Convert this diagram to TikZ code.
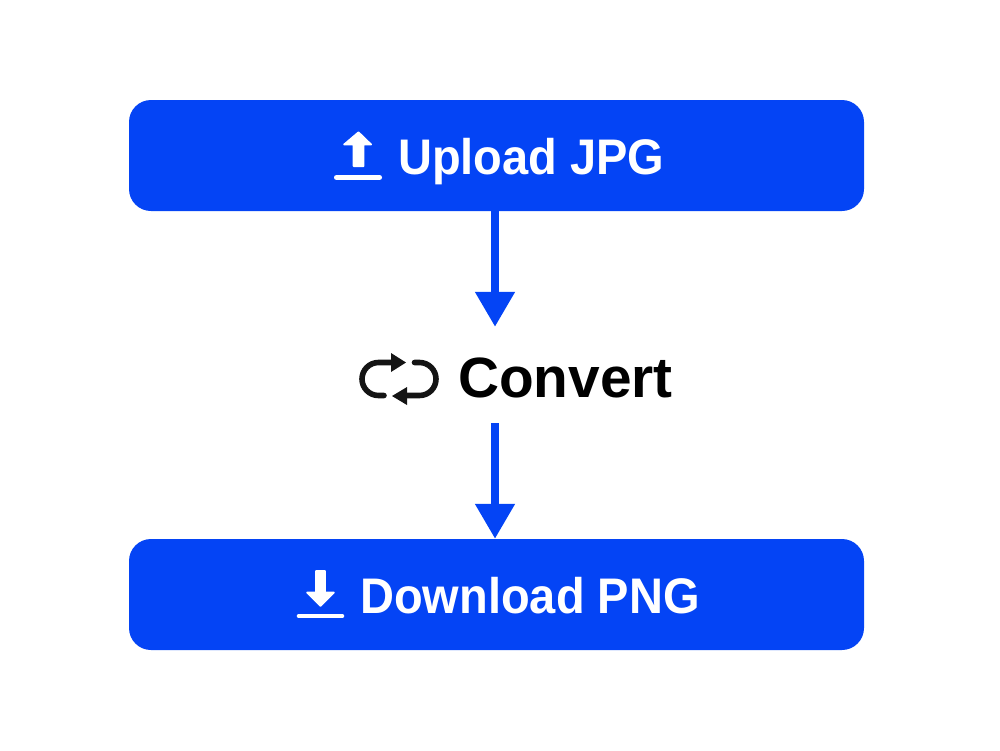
\documentclass[tikz,border=0pt]{standalone}
\usepackage{fontspec}
\setmainfont{Liberation Sans}[BoldFont={Liberation Sans Bold}]
\newfontfamily\narrowbold{Liberation Sans Bold}[FakeStretch=0.94]
\usetikzlibrary{arrows.meta}
\definecolor{brandblue}{HTML}{0444F5}
\definecolor{iconblack}{HTML}{141414}
\tikzset{
  x=1pt,y=-1pt,
  actionbox/.style={fill=brandblue,rounded corners=22pt,minimum width=735pt,minimum height=111pt,inner sep=0pt,draw=none},
  spacer/.style={minimum width=10pt,minimum height=96pt,inner sep=0pt,draw=none},
  lightlabel/.style={text=white,font=\fontsize{50}{50}\selectfont\narrowbold,anchor=base west,inner sep=0pt},
  darklabel/.style={text=black,font=\fontsize{56.8}{56.8}\selectfont\bfseries,anchor=base west,inner sep=0pt},
  flow/.style={brandblue,line width=8pt,-{Triangle[length=35pt,width=38pt]}},
  iconbar/.style={white,line width=4.6pt,line cap=round},
  iconfill/.style={fill=white,draw=white,line width=1.6pt,line join=round},
  loopstroke/.style={iconblack,line width=5.6pt,line cap=round},
  loophead/.style={fill=iconblack,draw=none},
}
\begin{document}
\begin{tikzpicture}
\useasboundingbox (0,0) rectangle (1000,750);
\node[actionbox] (upload) at (496.5,155.5) {};
\node[actionbox] (download) at (496.5,594.5) {};
\node[spacer] (convert) at (495,375) {};
\draw[flow] (upload.south -| convert.north) -- (convert.north);
\draw[flow] (convert.south) -- (convert.south |- download.north);
\node[lightlabel] (uploadtext) at (398,174.5) {Upload JPG};
\node[lightlabel] (downloadtext) at (360,613.5) {Download PNG};
\node[darklabel] (converttext) at (458,397) {Convert};
% upload icon
\draw[iconbar] (336.3,177.5) -- (379.7,177.5);
\draw[iconfill] (358.5,132.2) -- (371.2,144.5) -- (363.5,144.5) -- (363.5,166.2) -- (353.5,166.2) -- (353.5,144.5) -- (344,144.5) -- cycle;
% download icon
\draw[iconbar] (299,616) -- (342,616);
\draw[iconfill] (320.5,606) -- (334,592.5) -- (325,592.5) -- (325,571) -- (316,571) -- (316,592.5) -- (307,592.5) -- cycle;
% convert icon
\draw[loopstroke] (392,362.5) -- (378.5,362.5) arc[start angle=270,end angle=90,radius=16.5] -- (384,395.5);
\fill[loophead] (391,353) -- (406,362.5) -- (391,372) -- cycle;
\draw[loopstroke] (414.5,362.5) -- (419.5,362.5) arc[start angle=-90,end angle=90,radius=16.5] -- (405,395.5);
\fill[loophead] (407,387) -- (392,396) -- (407,405) -- cycle;
\end{tikzpicture}
\end{document}
